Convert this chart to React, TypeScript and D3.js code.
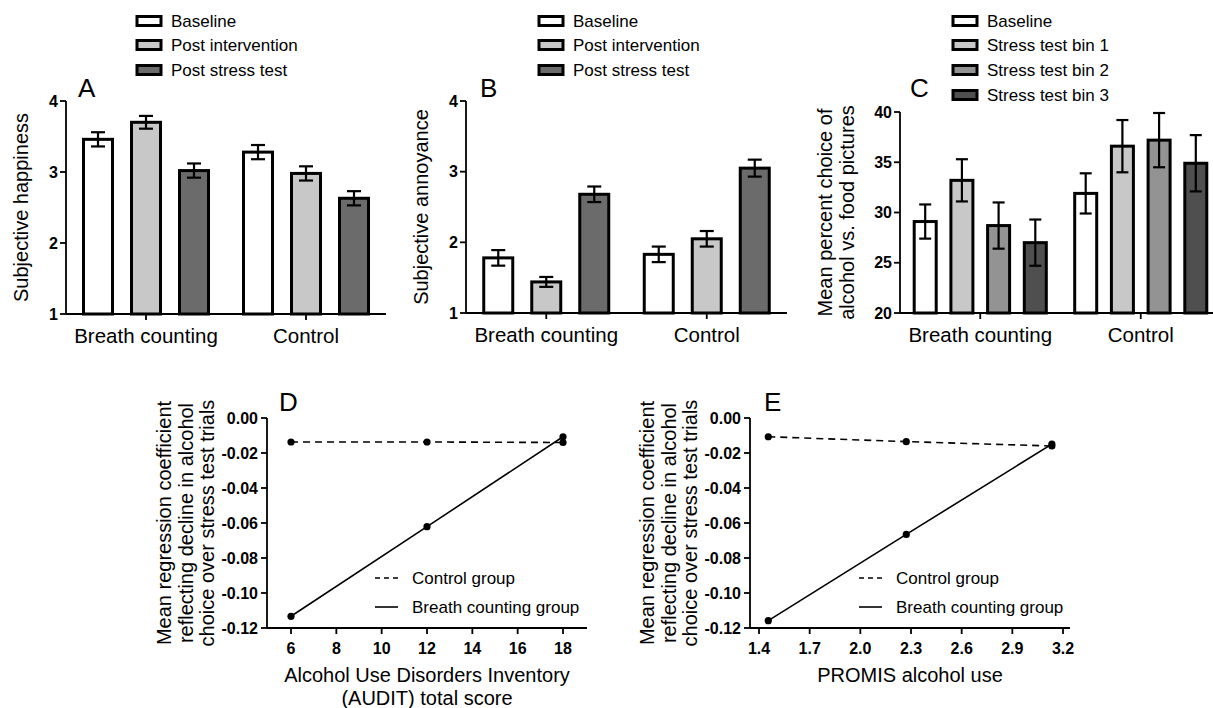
import React from "react";
import * as d3 from "d3";

const groups = ["Breath counting", "Control"];
const abSeries = ["Baseline", "Post intervention", "Post stress test"];
const abColors = ["#ffffff", "#c8c8c8", "#6b6b6b"];
const happinessMean = [[3.46, 3.70, 3.02], [3.28, 2.98, 2.63]];
const happinessErr = [[0.10, 0.09, 0.10], [0.10, 0.10, 0.10]];
const annoyanceMean = [[1.78, 1.44, 2.68], [1.83, 2.05, 3.05]];
const annoyanceErr = [[0.11, 0.07, 0.11], [0.11, 0.11, 0.12]];
const abTicks = [1, 2, 3, 4];

const cSeries = ["Baseline", "Stress test bin 1", "Stress test bin 2", "Stress test bin 3"];
const cColors = ["#ffffff", "#c8c8c8", "#939393", "#4f4f4f"];
const alcoholMean = [[29.1, 33.2, 28.7, 27.0], [31.9, 36.6, 37.2, 34.9]];
const alcoholErr = [[1.7, 2.1, 2.3, 2.3], [2.0, 2.6, 2.7, 2.8]];
const cTicks = [20, 25, 30, 35, 40];

const auditX = [6, 12, 18];
const auditControl = [-0.0137, -0.0137, -0.0140];
const auditBreath = [-0.1133, -0.0621, -0.0107];
const auditTicks = [6, 8, 10, 12, 14, 16, 18];

const promisX = [1.455, 2.272, 3.134];
const promisControl = [-0.0107, -0.0135, -0.0160];
const promisBreath = [-0.1158, -0.0665, -0.0149];
const promisTicks = [1.4, 1.7, 2.0, 2.3, 2.6, 2.9, 3.2];

const lineTicksY = [0, -0.02, -0.04, -0.06, -0.08, -0.1, -0.12];
const lineLegend = ["Control group", "Breath counting group"];

const FONT = "'Liberation Sans', Arial, Helvetica, sans-serif";

type BarProps = {
  x0: number; x1: number; xRangeEnd: number;
  yTop: number; yBottom: number; domain: [number, number]; ticks: number[];
  means: number[][]; errs: number[][]; series: string[]; colors: string[];
  spacing: number; barW: number; capW: number;
  yLabel: string[]; yLabelX: number[]; letter: string; letterX: number; letterY: number;
  legendX: number; legendY: number[];
};

function BarPanel(p: BarProps) {
  const x = d3.scaleBand<string>().domain(groups).range([p.x0, p.xRangeEnd]);
  const y = d3.scaleLinear().domain(p.domain).range([p.yBottom, p.yTop]);
  const n = p.series.length;
  const sub = d3.scalePoint<string>().domain(p.series).range([-(n - 1) * p.spacing / 2, (n - 1) * p.spacing / 2]);
  const yMid = (p.yTop + p.yBottom) / 2;
  return (
    <g>
      {groups.map((g, gi) => {
        const cx = (x(g) as number) + x.bandwidth() / 2;
        return (
          <g key={g}>
            {p.series.map((s, si) => {
              const bx = cx + (sub(s) as number);
              const v = p.means[gi][si];
              const e = p.errs[gi][si];
              return (
                <g key={s}>
                  <rect x={bx - p.barW / 2} y={y(v)} width={p.barW} height={y(p.domain[0]) - y(v)}
                    fill={p.colors[si]} stroke="#000" strokeWidth={3} />
                  <line x1={bx} x2={bx} y1={y(v - e)} y2={y(v + e)} stroke="#000" strokeWidth={2.2} />
                  <line x1={bx - p.capW} x2={bx + p.capW} y1={y(v + e)} y2={y(v + e)} stroke="#000" strokeWidth={2.2} />
                  <line x1={bx - p.capW} x2={bx + p.capW} y1={y(v - e)} y2={y(v - e)} stroke="#000" strokeWidth={2.2} />
                </g>
              );
            })}
            <line x1={cx} x2={cx} y1={p.yBottom} y2={p.yBottom + 6} stroke="#000" strokeWidth={1.8} />
            <text x={cx} y={p.yBottom + 29} textAnchor="middle" fontSize={20.5} fontFamily={FONT}>{g}</text>
          </g>
        );
      })}
      <line x1={p.x0} x2={p.x0} y1={p.yTop} y2={p.yBottom} stroke="#000" strokeWidth={1.8} />
      <line x1={p.x0} x2={p.x1} y1={p.yBottom} y2={p.yBottom} stroke="#000" strokeWidth={1.8} />
      {p.ticks.map((t) => (
        <g key={t}>
          <line x1={p.x0 - 6} x2={p.x0} y1={y(t)} y2={y(t)} stroke="#000" strokeWidth={1.8} />
          <text x={p.x0 - 8} y={y(t)} dy="0.35em" textAnchor="end" fontSize={16} fontWeight="bold" fontFamily={FONT}>{t}</text>
        </g>
      ))}
      {p.yLabel.map((l, i) => (
        <text key={l} transform={`translate(${p.yLabelX[i]},${yMid}) rotate(-90)`} textAnchor="middle" dy="0.35em"
          fontSize={20} fontFamily={FONT}>{l}</text>
      ))}
      <text x={p.letterX} y={p.letterY} fontSize={26} fontFamily={FONT}>{p.letter}</text>
      {p.series.map((s, si) => (
        <g key={s}>
          <rect x={p.legendX} y={p.legendY[si] - 4.5} width={24} height={9} fill={p.colors[si]} stroke="#000" strokeWidth={3} />
          <text x={p.legendX + 34} y={p.legendY[si]} dy="0.35em" fontSize={17} fontFamily={FONT}>{s}</text>
        </g>
      ))}
    </g>
  );
}

type LineProps = {
  axisX: number; axisXEnd: number; xDomain: [number, number]; xRange: [number, number];
  xTicks: number[]; xFmt: (v: number) => string;
  xs: number[]; control: number[]; breath: number[];
  yLabelX: number[]; xLabel: string[]; xLabelCx: number;
  letter: string; letterX: number; legendX: number;
};

const yLineTop = 418;
const yLineBottom = 628;
const yLabelLines = ["Mean regression coefficient", "reflecting decline in alcohol", "choice over stress test trials"];

function LinePanel(p: LineProps) {
  const x = d3.scaleLinear().domain(p.xDomain).range(p.xRange);
  const y = d3.scaleLinear().domain([-0.12, 0]).range([yLineBottom, yLineTop]);
  const line = d3.line<number>().x((_, i) => x(p.xs[i])).y((d) => y(d));
  const yMid = (yLineTop + yLineBottom) / 2;
  return (
    <g>
      <path d={line(p.control) || ""} fill="none" stroke="#000" strokeWidth={1.6} strokeDasharray="7,5" />
      <path d={line(p.breath) || ""} fill="none" stroke="#000" strokeWidth={1.6} />
      {p.control.map((v, i) => <circle key={"c" + i} cx={x(p.xs[i])} cy={y(v)} r={3.6} fill="#000" />)}
      {p.breath.map((v, i) => <circle key={"b" + i} cx={x(p.xs[i])} cy={y(v)} r={3.6} fill="#000" />)}
      <line x1={p.axisX} x2={p.axisX} y1={yLineTop} y2={yLineBottom} stroke="#000" strokeWidth={1.8} />
      <line x1={p.axisX} x2={p.axisXEnd} y1={yLineBottom} y2={yLineBottom} stroke="#000" strokeWidth={1.8} />
      {lineTicksY.map((t) => (
        <g key={t}>
          <line x1={p.axisX - 6} x2={p.axisX} y1={y(t)} y2={y(t)} stroke="#000" strokeWidth={1.8} />
          <text x={p.axisX - 9} y={y(t)} dy="0.35em" textAnchor="end" fontSize={16} fontWeight="bold" fontFamily={FONT}>
            {t.toFixed(2)}
          </text>
        </g>
      ))}
      {p.xTicks.map((t) => (
        <g key={t}>
          <line x1={x(t)} x2={x(t)} y1={yLineBottom} y2={yLineBottom + 6} stroke="#000" strokeWidth={1.8} />
          <text x={x(t)} y={yLineBottom + 20} dy="0.35em" textAnchor="middle" fontSize={16} fontWeight="bold" fontFamily={FONT}>
            {p.xFmt(t)}
          </text>
        </g>
      ))}
      {yLabelLines.map((l, i) => (
        <text key={l} transform={`translate(${p.yLabelX[i]},${yMid}) rotate(-90)`} textAnchor="middle" dy="0.35em"
          fontSize={20} fontFamily={FONT}>{l}</text>
      ))}
      {p.xLabel.map((l, i) => (
        <text key={l} x={p.xLabelCx} y={682 + i * 23} textAnchor="middle" fontSize={20} fontFamily={FONT}>{l}</text>
      ))}
      <text x={p.letterX} y={411} fontSize={26} fontFamily={FONT}>{p.letter}</text>
      {lineLegend.map((s, i) => (
        <g key={s}>
          <line x1={p.legendX} x2={p.legendX + 23} y1={578 + i * 29} y2={578 + i * 29} stroke="#000" strokeWidth={1.6}
            strokeDasharray={i === 0 ? "5,4" : undefined} />
          <text x={p.legendX + 37} y={578 + i * 29} dy="0.35em" fontSize={17} fontFamily={FONT}>{s}</text>
        </g>
      ))}
    </g>
  );
}

export default function App() {
  return (
    <svg width={1213} height={708} style={{ position: "absolute", left: 0, top: 0, background: "#fff" }}>
      <rect x={0} y={0} width={1213} height={708} fill="#fff" />
      <BarPanel x0={66} x1={386} xRangeEnd={386} yTop={101} yBottom={314} domain={[1, 4]} ticks={abTicks}
        means={happinessMean} errs={happinessErr} series={abSeries} colors={abColors}
        spacing={48} barW={29} capW={7}
        yLabel={["Subjective happiness"]} yLabelX={[21]} letter="A" letterX={78} letterY={97}
        legendX={137} legendY={[21, 45, 70]} />
      <BarPanel x0={466} x1={787} xRangeEnd={787} yTop={101} yBottom={313} domain={[1, 4]} ticks={abTicks}
        means={annoyanceMean} errs={annoyanceErr} series={abSeries} colors={abColors}
        spacing={48} barW={29} capW={7}
        yLabel={["Subjective annoyance"]} yLabelX={[421]} letter="B" letterX={480} letterY={97}
        legendX={539} legendY={[21, 45, 70]} />
      <BarPanel x0={900} x1={1213} xRangeEnd={1221} yTop={112} yBottom={313} domain={[20, 40]} ticks={cTicks}
        means={alcoholMean} errs={alcoholErr} series={cSeries} colors={cColors}
        spacing={36.7} barW={22} capW={6}
        yLabel={["Mean percent choice of", "alcohol vs. food pictures"]} yLabelX={[825, 847]} letter="C" letterX={910} letterY={97}
        legendX={953} legendY={[21, 45, 70, 95]} />
      <LinePanel axisX={267} axisXEnd={587} xDomain={[6, 18]} xRange={[291, 563]} xTicks={auditTicks}
        xFmt={(v) => String(v)} xs={auditX} control={auditControl} breath={auditBreath}
        yLabelX={[164, 186, 207]} xLabel={["Alcohol Use Disorders Inventory", "(AUDIT) total score"]} xLabelCx={427}
        letter="D" letterX={279} legendX={375} />
      <LinePanel axisX={750} axisXEnd={1070} xDomain={[1.4, 3.2]} xRange={[759, 1063]} xTicks={promisTicks}
        xFmt={(v) => v.toFixed(1)} xs={promisX} control={promisControl} breath={promisBreath}
        yLabelX={[647, 669, 690]} xLabel={["PROMIS alcohol use"]} xLabelCx={910}
        letter="E" letterX={764} legendX={859} />
    </svg>
  );
}
